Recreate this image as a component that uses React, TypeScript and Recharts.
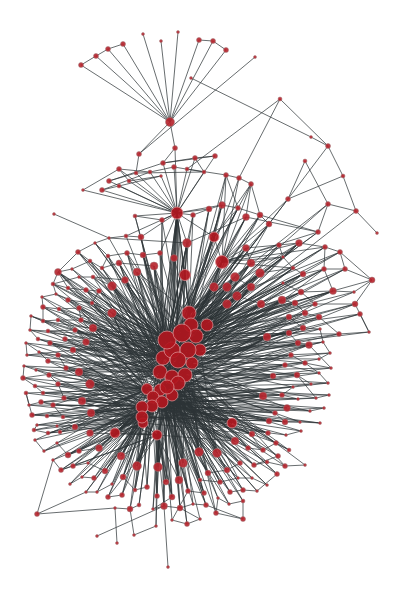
import { ComposedChart, XAxis, YAxis, Line, Scatter } from "recharts";

// node tuples: [x, y, radius, "hub ids it links to"]
type Hub = [number, number, number];
type Node = [number, number, number, string];

// central cluster plus the two upper hubs (27 = middle hub, 28 = top fan hub)
const hubs: Hub[] = [
  [189, 313, 7], [191, 325, 7], [207, 325, 6], [167, 340, 9], [182, 333, 9],
  [196, 336, 7], [172, 350, 8], [188, 350, 8], [200, 350, 6], [163, 358, 7],
  [178, 360, 8], [192, 363, 6], [160, 372, 7], [172, 377, 7], [185, 375, 7],
  [178, 383, 7], [167, 387, 7], [147, 389, 5.5], [160, 390, 6], [153, 397, 6],
  [172, 395, 6], [162, 402, 6], [152, 406, 6], [142, 407, 6], [142, 417, 6],
  [143, 423, 5], [157, 435, 5], [177, 213, 6], [170, 122, 4.5], [222, 262, 6.5],
  [185, 275, 5.5], [187, 243, 4.5], [214, 237, 5],
];
const hubPeers =
  "0-1 0-4 1-5 2-5 3-4 3-6 4-7 5-8 6-9 7-10 8-11 9-12 10-13 11-14 12-16 13-15 14-15 16-18 17-19 18-21 19-22 20-21 22-23 23-24 24-25 25-26 " +
  "27-31 27-30 27-3 27-4 27-0 27-6 27-9 27-12 27-1 27-7 27-10 27-13 27-16 27-15 27-19 27-22 31-0 31-4 31-3 31-6 31-9 31-12 30-0 30-3 30-4 " +
  "30-1 30-6 30-9 30-12 30-16 30-19 29-0 29-1 29-2 29-5 29-4 29-7 29-10 29-13 29-16 32-0 32-4 32-29 32-3 32-6 31-30 27-32 " +
  "0-10 5-12 2-13 8-16 1-19 4-20 3-22 0-24 7-26 2-17 5-23 11-25 10-26 1-21 2-24 8-22 5-26 0-17";

const topNodes: Node[] = [
  [81, 65, 2.5, "28"], [96, 56, 2.5, "28"], [108, 49, 2.5, "28"], [123, 44, 2.5, "28"], [143, 34, 1.5, "28"],
  [161, 41, 1.5, "28"], [178, 32, 1.5, "28"], [199, 40, 2.5, "28"], [213, 41, 2.5, "28"], [226, 50, 2.5, "28"],
  [191, 78, 1.5, ""], [255, 57, 1.5, ""], [280, 99, 2, ""], [139, 154, 2.5, "28"], [175, 148, 2.5, "28 27"],
  [163, 163, 2.5, "27"], [174, 167, 2.5, "27"], [195, 158, 2.5, "27"], [215, 156, 2.5, "27"], [119, 169, 2.5, "27"],
  [136, 173, 2, "27"], [150, 172, 2, "27"], [161, 176, 1.5, "27"], [187, 169, 2, "27"], [204, 172, 2, "27"],
  [109, 181, 2.5, "27"], [129, 181, 2, "27"], [119, 186, 2, "27"], [102, 190, 2.5, "27"], [83, 190, 1.5, "27"],
  [226, 175, 2.5, "32 29 4"], [239, 178, 2.5, "29 0"], [251, 184, 2.5, "29 32 3"], [288, 199, 2.5, "29 1"], [305, 161, 2, ""],
  [328, 146, 2.5, ""], [311, 137, 1.5, ""], [343, 176, 2, ""], [328, 204, 2.5, "0 4"], [356, 211, 2.5, "5"],
  [377, 233, 1.5, ""], [318, 232, 2.5, "29 4 1"], [135, 216, 2, "27 3 6"], [162, 220, 2.5, "27 4 9 12"],
  [193, 215, 2.5, "27 0 3 6"], [209, 209, 3, "27 1 4 10"], [222, 205, 3.5, "27 4 0 7 13"], [238, 208, 2.5, "32 3 6 9"], [246, 217, 3.5, "29 31 0 4 10"],
  [260, 215, 3, "29 4 7 12"], [269, 224, 3, "29 3 1 9 15"],
];
const topPeers =
  "0-1 1-2 2-3 7-8 8-9 11-13 10-36 12-23 12-31 12-35 19-21 19-26 25-20 25-15 28-21 28-22 15-17 15-18 17-18 21-16 26-22 20-24 " +
  "23-30 24-17 30-31 31-32 30-47 32-48 33-34 33-35 35-36 35-37 37-33 34-38 38-39 39-40 38-41 46-47 45-46 47-49 49-50 48-41 " +
  "43-42 44-45 29-19 13-20 14-15 16-24 33-50 32-49 41-49 37-39";

const rightNodes: Node[] = [
  [246, 248, 3.5, "29 0 4 3 6 9"], [279, 245, 2.5, "29 4 1 7"], [299, 243, 3.5, "0 3 29 6 10 12"], [325, 247, 2.5, "29 1 4 9"], [340, 252, 2.5, "4 0 6"],
  [251, 263, 4, "0 3 6 10 12 13 16 1"], [260, 273, 4.5, "1 4 9 13 3 6 12 15"], [235, 277, 4.5, "0 3 7 12 6 9 16 19"], [283, 257, 1.5, "29 3 6"], [293, 268, 2, "29 5 9 12"],
  [303, 274, 3, "4 10 3 6 13"], [324, 269, 2.5, "3 14 6 9"], [345, 269, 2.5, "7 3 12"], [372, 280, 3, "4"], [333, 291, 3.5, "4 9 3 6 12"],
  [354, 292, 1.5, "12 3"], [355, 304, 3, "6 9 13"], [360, 314, 2.5, "10 3 12"], [369, 332, 1.5, "9"], [251, 287, 4, "3 6 9 12 16 19 22"],
  [237, 296, 4.5, "4 7 10 13 15 3 6 9"], [283, 283, 1.5, "5 3 9"], [301, 292, 3, "3 12 6 9"], [315, 304, 2.5, "6 16 3"], [282, 300, 4, "1 9 13 19 3 6 12"],
  [261, 304, 4, "3 10 14 18 6 9 12"], [295, 303, 3, "4 12 6 9"], [305, 313, 3, "9 20 3 13"], [289, 317, 3, "3 15 6 12"], [319, 317, 3, "6 13 9"],
  [303, 328, 3, "10 21 3 9"], [320, 329, 1.5, "12 6"], [339, 334, 2.5, "4 9 12"], [289, 333, 3, "9 16 3 6 13"], [298, 343, 3, "3 19 9 12"],
  [309, 345, 3.5, "6 12 22 9 16"], [323, 342, 1.5, "13 9"], [330, 353, 1.5, "10 12"], [319, 359, 1.5, "15 9"], [267, 337, 4, "3 6 9 12 16 21 13 19"],
  [291, 355, 2.5, "13 20 9 12"], [305, 363, 2.5, "12 18 6"], [331, 368, 1.5, "16 12"], [285, 365, 2.5, "9 22 13 16"], [319, 373, 1.5, "13 19"],
  [273, 376, 3, "6 15 24 12 19"], [297, 375, 3, "12 19 9 16"], [311, 384, 1.5, "16 21"], [328, 383, 1.5, "21 12"], [293, 387, 1.5, "9 19"],
  [282, 395, 2.5, "13 23 16 19"], [298, 399, 1.5, "18 22"], [316, 398, 1.5, "12 21"], [329, 395, 1.5, "20 16"], [263, 396, 4, "6 12 16 22 25 9 19 23"],
  [287, 408, 3.5, "9 21 16 19 23"], [310, 411, 1.5, "15 22"], [324, 408, 1.5, "24 19"], [275, 413, 2.5, "13 23 21 17"], [269, 421, 3, "16 22 19 24"],
  [285, 422, 3, "19 23 21"], [300, 422, 1.5, "12 24"], [320, 423, 1.5, "21 22"], [301, 431, 1.5, "18 23"], [286, 435, 1.5, "24 21"],
  [252, 434, 3, "12 22 25 17 19"], [268, 433, 2.5, "16 23 19 21"], [232, 423, 5, "6 13 16 19 21 24 9 12 17 22"], [235, 441, 4, "12 18 22 26 16 19 23"], [214, 287, 4.5, "0 1 3 4 9 6 12"],
  [227, 287, 4.5, "0 3 6 10 9 12"], [227, 304, 4.5, "1 3 6 12 9 16"],
];
const rightPeers =
  "0-1 1-2 2-3 3-4 0-5 5-8 8-9 9-10 10-11 11-12 12-13 13-15 13-16 14-15 16-17 17-18 11-14 10-21 21-22 22-23 23-16 22-14 " +
  "26-27 27-29 29-32 28-30 30-31 31-36 33-34 34-35 35-36 36-37 37-38 35-42 40-41 41-42 43-44 44-48 46-47 47-48 49-50 50-51 " +
  "51-52 52-53 55-56 56-57 58-60 60-61 61-62 63-64 4-13 2-8 6-9 24-26 18-32 1-8 3-11 46-52 41-44 7-19 20-25 4-12 18-17";

const leftNodes: Node[] = [
  [78, 252, 2.5, "3 9 6"], [95, 243, 1.5, "6 3"], [108, 256, 2, "3 12 9"], [127, 253, 2.5, "4 9 3 12"], [143, 255, 3, "3 6 10 9 13"],
  [160, 253, 2.5, "4 27 3 9"], [174, 258, 3.5, "3 4 27 0 6 10"], [109, 238, 1.5, "31 3"], [126, 236, 2, "27 6"], [141, 237, 3, "27 3 9"],
  [58, 272, 3.5, "3 6 9 12 16 13"], [72, 269, 1.5, "9 3"], [90, 261, 2, "12 3 6"], [102, 268, 2, "6 13 9"], [119, 263, 3, "3 9 16 6 12"],
  [137, 272, 4, "3 4 6 12 9 16 0"], [154, 266, 4, "3 4 9 10 13 6 12"], [53, 284, 2, "12 3 6"], [79, 277, 1.5, "9 3"], [93, 277, 2, "6 16 3"],
  [112, 286, 4.5, "3 6 9 12 15 16 13 19"], [125, 280, 3.5, "4 10 13 3 6 9"], [68, 288, 2, "3 13 9"], [86, 290, 2.5, "9 18 3 12"], [99, 291, 2.5, "6 12 3 9"],
  [42, 297, 1.5, "16 9"], [56, 294, 1.5, "3 12"], [68, 300, 2.5, "9 13 6 16"], [92, 303, 2, "12 20 3 9"], [43, 307, 2.5, "6 16 12"],
  [59, 309, 2, "3 12 9"], [79, 308, 2.5, "9 19 6 12"], [112, 313, 4.5, "3 6 9 12 16 22 13 17 19"], [31, 316, 1.5, "13 9"], [43, 321, 2, "9 18 3"],
  [58, 320, 2, "6 12 16"], [81, 320, 2.5, "3 12 21 9"], [93, 328, 4, "6 9 13 17 22 3 12 19"], [30, 330, 1.5, "12 6"], [48, 331, 2, "3 16 9"],
  [75, 330, 2.5, "9 19 12 6"], [65, 339, 2.5, "6 13 9 17"], [86, 342, 3.5, "3 12 17 23 9 16 19"], [38, 339, 2, "9 12"], [26, 343, 1.5, "16 9"],
  [50, 343, 2.5, "12 22 9 17"], [73, 350, 3, "6 17 24 12 19"], [27, 355, 1.5, "3 12"], [58, 355, 2.5, "9 19 12"], [39, 352, 1.5, "13 17"],
  [48, 361, 2.5, "12 23 17"], [24, 366, 1.5, "17 12"], [66, 368, 2.5, "6 16 22 17"], [79, 372, 4, "3 9 12 17 23 25 19 22"], [36, 370, 1.5, "19 12"],
  [49, 375, 2.5, "13 24 17"], [23, 378, 2.5, "9 17 22"], [58, 384, 2.5, "12 22 17 19"], [90, 384, 4.5, "6 13 17 19 23 26 12 22"], [35, 386, 2, "17 23"],
  [26, 393, 2, "23 17"], [43, 393, 2, "16 22 19"], [64, 398, 2.5, "12 24 17 23"], [82, 401, 4, "9 17 19 23 25 22 12"], [29, 405, 1.5, "22 24"],
  [41, 402, 2.5, "17 24 19"], [53, 405, 2.5, "12 23 22"], [91, 413, 4, "13 17 22 24 26 19 23"], [32, 415, 2.5, "23 19 24"], [47, 416, 2, "17 22"],
  [63, 417, 2, "22 25 23"], [75, 427, 3, "17 24 22 26"], [34, 430, 2, "22 24"], [48, 433, 2, "23 25 22"], [60, 432, 2, "17 24"],
  [90, 433, 3.5, "19 24 26 22 23"], [115, 433, 5, "16 19 22 24 25 26 17 21 23"], [37, 425, 1.5, "24 23"], [57, 426, 1.5, "17 25"], [54, 214, 1.5, ""],
];
const leftPeers =
  "0-1 0-12 0-10 1-2 2-3 3-4 4-5 1-7 7-8 8-9 10-11 11-12 12-13 13-14 10-17 17-18 18-19 19-20 17-22 22-23 23-24 25-26 26-27 " +
  "27-28 25-29 29-30 30-31 33-34 34-35 35-36 33-38 38-39 39-40 43-45 45-46 44-47 47-48 49-50 51-54 54-55 55-57 56-59 59-61 " +
  "60-64 64-65 65-66 68-69 69-70 72-73 73-74 77-78 10-22 17-26 29-34 38-43 44-49 51-56 60-68 72-77 14-16 19-21 24-28 31-36 " +
  "40-42 48-52 57-62 66-70 74-71 2-13 79-7";

const bottomNodes: Node[] = [
  [35, 440, 1.5, "17 24"], [44, 451, 1.5, "24 22"], [57, 443, 1.5, "22 17"], [68, 455, 3, "19 25 22 24"], [79, 451, 2.5, "17 24 23"],
  [99, 448, 3.5, "16 22 25 19 23"], [121, 456, 4, "13 19 23 26 16 22 24"], [53, 460, 1.5, "25 23"], [61, 470, 2.5, "24 22 26"], [73, 466, 2.5, "22 26 19"],
  [88, 463, 1.5, "19 24"], [105, 471, 3, "16 25 22 19"], [137, 466, 4.5, "13 18 21 24 26 16 22 19"], [158, 467, 4.5, "12 15 20 22 26 13 18 21"], [183, 463, 4.5, "10 14 20 21 13 16 18"],
  [199, 452, 4.5, "7 11 14 20 10 13 15"], [217, 453, 4.5, "8 11 15 21 10 14 20"], [248, 448, 2.5, "14 20 16 21"], [263, 450, 2.5, "11 15 20"], [276, 443, 2.5, "15 13 21"],
  [289, 450, 2, "14 16"], [278, 456, 2.5, "20 13"], [254, 465, 2.5, "13 21 16 20"], [267, 462, 2, "15 21"], [285, 466, 2.5, "11 16"],
  [305, 465, 1.5, "14"], [240, 463, 2.5, "16 20 13 21"], [227, 470, 3, "13 21 15 20"], [208, 473, 3, "14 20 16 21"], [179, 480, 4, "12 16 21 26 13 18 20"],
  [166, 482, 3, "13 22 16 19"], [200, 480, 2, "15 21 16"], [220, 482, 2.5, "20 16 13"], [238, 478, 1.5, "14 21"], [252, 478, 1.5, "21 16"],
  [267, 485, 1.5, "16 20"], [277, 474, 2.5, "13 15 21"], [257, 491, 1.5, "20 16"], [243, 490, 2.5, "15 21 13"], [230, 492, 2.5, "16 20 21"],
  [204, 493, 2.5, "13 20 16 21"], [188, 491, 2.5, "16 21 18 13"], [172, 497, 3, "18 22 26 16 21"], [147, 487, 2.5, "19 24 22"], [135, 490, 2, "22 19 24"],
  [123, 477, 3, "17 25 22 19"], [94, 478, 2.5, "23 22"], [82, 477, 1.5, "25 24"], [70, 484, 1.5, "24 23"], [86, 492, 1.5, "22 24"],
  [97, 492, 1.5, "19 23"], [112, 484, 1.5, "23 22"], [108, 497, 2.5, "24 26 22"], [122, 495, 2.5, "21 19 24"], [157, 496, 2.5, "18 26 22 21"],
  [139, 505, 2, "22 19"], [130, 509, 3, "19 24"], [115, 508, 1.5, ""], [153, 509, 1.5, "21 26"], [164, 506, 3.5, "16 26 18 21"],
  [180, 508, 3, "13 20 16"], [193, 504, 1.5, "15 21"], [206, 505, 2.5, "21 16 20"], [216, 513, 2.5, "14 20"], [218, 498, 1.5, "20 13"],
  [229, 504, 1.5, "16 21"], [243, 501, 2, "13 20"], [243, 519, 2.5, ""], [172, 520, 1.5, "21"], [187, 524, 2.5, "20 16"],
  [200, 519, 1.5, "16"], [156, 526, 1.5, "26"], [134, 535, 1.5, ""], [97, 536, 1.5, ""], [117, 543, 1.5, ""],
  [168, 567, 1.5, ""], [37, 514, 2.5, ""],
];
const bottomPeers =
  "0-1 1-2 2-3 3-4 4-5 7-8 8-9 9-10 10-11 17-18 18-19 19-20 21-22 22-23 23-24 24-25 26-27 27-28 31-32 32-33 33-34 34-35 " +
  "36-37 37-38 38-39 40-41 43-44 44-45 46-47 47-48 49-50 50-51 52-53 55-56 56-57 58-59 59-60 60-61 61-62 63-64 64-65 65-66 " +
  "66-67 63-67 67-62 68-69 69-70 71-72 72-56 73-59 74-57 75-59 76-57 76-49 76-7 41-68 54-71 60-70 42-58";

const edgeColor = "#2c3336";

type Pt = { x: number; y: number | null; r?: number };

function buildGraph() {
  const nodes: Pt[] = hubs.map(([x, y, r]) => ({ x, y, r }));
  const edges: [number, number][] = [];
  const pairs = (s: string, off: number) =>
    s.split(" ").filter(Boolean).forEach((p) => {
      const [a, b] = p.split("-").map(Number);
      edges.push([off + a, off + b]);
    });
  pairs(hubPeers, 0);
  const regions: [Node[], string][] = [
    [topNodes, topPeers],
    [rightNodes, rightPeers],
    [leftNodes, leftPeers],
    [bottomNodes, bottomPeers],
  ];
  regions.forEach(([list, peers]) => {
    const off = nodes.length;
    list.forEach(([x, y, r, links], i) => {
      nodes.push({ x, y, r });
      links.split(" ").filter(Boolean).forEach((h) => edges.push([off + i, Number(h)]));
    });
    pairs(peers, off);
  });
  const segs: Pt[] = [];
  edges.forEach(([a, b]) => {
    const A = nodes[a];
    const B = nodes[b];
    if (!A || !B) return;
    segs.push({ x: A.x, y: A.y }, { x: B.x, y: B.y }, { x: B.x, y: null });
  });
  const sorted = [...nodes].sort((p, q) => (p.r || 0) - (q.r || 0));
  return { segs, sorted };
}

const { segs, sorted } = buildGraph();

const NodeDot = (props: any) => {
  const { cx, cy, payload } = props;
  const r = payload.r || 2;
  const big = r >= 5;
  return (
    <circle
      cx={cx}
      cy={cy}
      r={r}
      fill={big ? "#b0161e" : "#b7262f"}
      fillOpacity={0.92}
      stroke={big ? "#d98a8e" : "#a0787a"}
      strokeWidth={big ? 0.8 : 0.5}
    />
  );
};

export default function App() {
  return (
    <ComposedChart width={392} height={592} margin={{ top: 0, right: 0, bottom: 0, left: 0 }}>
      <XAxis type="number" dataKey="x" domain={[8, 400]} allowDataOverflow hide />
      <YAxis type="number" dataKey="y" domain={[8, 600]} reversed allowDataOverflow hide />
      <Line
        data={segs}
        dataKey="y"
        stroke={edgeColor}
        strokeWidth={0.85}
        strokeOpacity={0.85}
        dot={false}
        activeDot={false}
        connectNulls={false}
        isAnimationActive={false}
      />
      <Scatter data={sorted} dataKey="y" shape={NodeDot} isAnimationActive={false} />
    </ComposedChart>
  );
}
